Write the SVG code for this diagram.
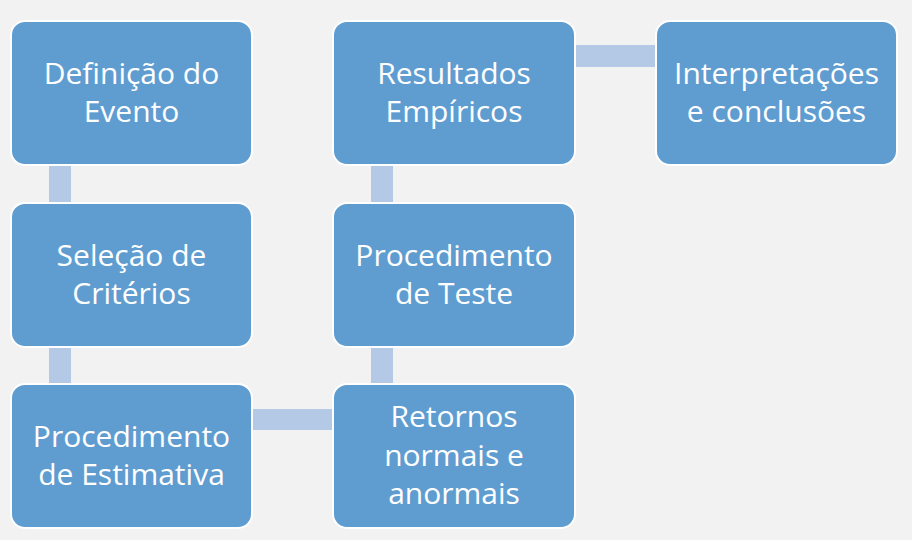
<svg xmlns="http://www.w3.org/2000/svg" width="912" height="540" viewBox="0 0 912 540">
<style>
.box{fill:#5f9dd1;stroke:#ffffff;stroke-width:2}
.con{fill:#b4c9e5}
.t{font-family:"Open Sans","Liberation Sans",sans-serif;font-size:30px;fill:#ffffff;text-anchor:middle}
</style>
<rect width="912" height="540" fill="#f2f2f2"/>
<g id="connectors">
<rect class="con" x="49" y="165" width="22" height="38"/>
<rect class="con" x="49" y="347" width="22" height="37"/>
<rect class="con" x="253" y="409" width="79" height="21"/>
<rect class="con" x="371" y="347" width="22" height="37"/>
<rect class="con" x="371" y="165" width="22" height="38"/>
<rect class="con" x="576" y="45" width="79" height="22"/>
</g>
<g id="n1"><rect class="box" x="11" y="21" width="241" height="144" rx="14"/>
<text class="t" x="131.5" y="84">Definição do</text><text class="t" x="131.5" y="122">Evento</text></g>
<g id="n2"><rect class="box" x="11" y="203" width="241" height="144" rx="14"/>
<text class="t" x="131.5" y="266">Seleção de</text><text class="t" x="131.5" y="304">Critérios</text></g>
<g id="n3"><rect class="box" x="11" y="384" width="241" height="144" rx="14"/>
<text class="t" x="131.5" y="447">Procedimento</text><text class="t" x="131.5" y="485">de Estimativa</text></g>
<g id="n4"><rect class="box" x="333" y="384" width="242" height="144" rx="14"/>
<text class="t" x="454" y="427">Retornos</text><text class="t" x="454" y="466">normais e</text><text class="t" x="454" y="504">anormais</text></g>
<g id="n5"><rect class="box" x="333" y="203" width="242" height="144" rx="14"/>
<text class="t" x="454" y="266">Procedimento</text><text class="t" x="454" y="304">de Teste</text></g>
<g id="n6"><rect class="box" x="333" y="21" width="242" height="144" rx="14"/>
<text class="t" x="454" y="84">Resultados</text><text class="t" x="454" y="122">Empíricos</text></g>
<g id="n7"><rect class="box" x="656" y="21" width="241" height="144" rx="14"/>
<text class="t" x="776.5" y="84">Interpretações</text><text class="t" x="776.5" y="122">e conclusões</text></g>
</svg>
